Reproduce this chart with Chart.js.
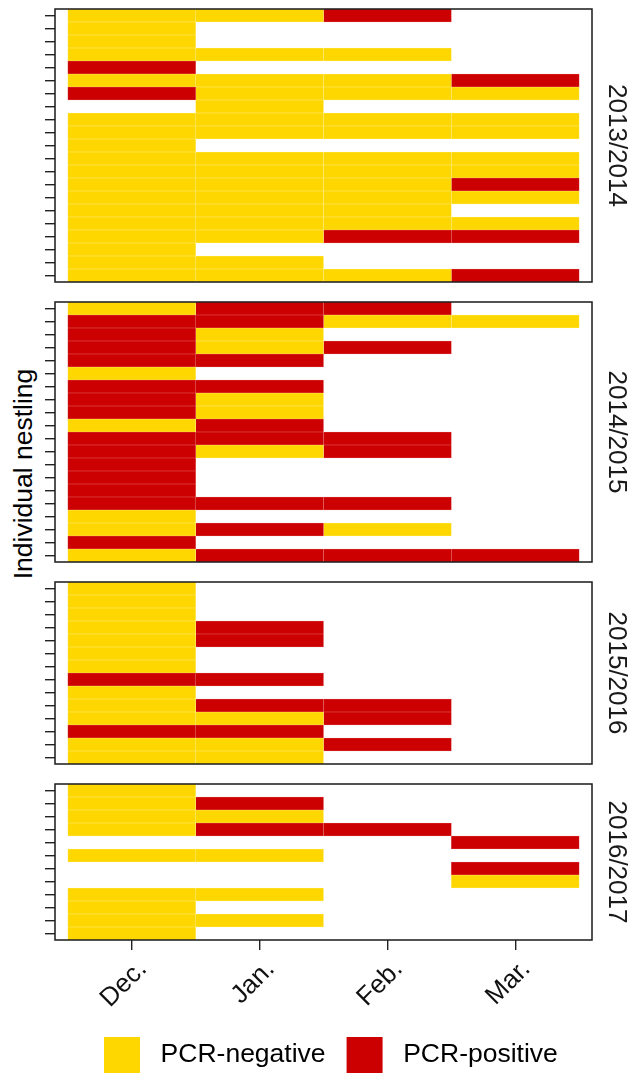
<!DOCTYPE html>
<html>
<head>
<meta charset="utf-8">
<script src="https://cdn.jsdelivr.net/npm/chart.js@4.4.1/dist/chart.umd.min.js"></script>
<style>
  html, body { margin: 0; padding: 0; width: 635px; height: 1074px; overflow: hidden; background: #fff; }
  canvas { position: absolute; }
  #ylab {
    position: absolute; left: 23px; top: 474px;
    transform: translate(-50%, -50%) rotate(-90deg);
    font: 26.5px 'Liberation Sans', Arial, sans-serif; color: #000; white-space: nowrap;
  }
</style>
</head>
<body>
<div id="ylab">Individual nestling</div>
<script>
const months = ['Dec.', 'Jan.', 'Feb.', 'Mar.'];
const seasons = ['2013/2014', '2014/2015', '2015/2016', '2016/2017'];
const statusNames = ['PCR-negative', 'PCR-positive'];

// one string per nestling (top to bottom), one letter per month:
// N = PCR-negative, P = PCR-positive, - = not sampled
const s2013 = ['NNP-', 'N---', 'N---', 'NNN-', 'P---', 'NNNP', 'PNNN', '-N--', 'NNNN', 'NNNN', 'N---',
               'NNNN', 'NNNN', 'NNNP', 'NNNN', 'NNN-', 'NNNN', 'NNPP', 'N---', 'NN--', 'NNNP'];
const s2014 = ['NPP-', 'PPNN', 'PN--', 'PNP-', 'PP--', 'N---', 'PP--', 'PN--', 'PN--', 'NP--',
               'PPP-', 'PNP-', 'P---', 'P---', 'P---', 'PPP-', 'N---', 'NPN-', 'P---', 'NPPP'];
const s2015 = ['N---', 'N---', 'N---', 'NP--', 'NP--', 'N---', 'N---', 'PP--', 'N---', 'NPP-',
               'NNP-', 'PP--', 'NNP-', 'NN--'];
const s2016 = ['N---', 'NP--', 'NN--', 'NPP-', '---P', 'NN--', '---P', '---N', 'NN--', 'N---',
               'NN--', 'N---'];
const rowsBySeason = [s2013, s2014, s2015, s2016];

const YELLOW = '#FFD700', RED = '#CC0000';
const YELLOW_EDGE = '#FFEA7A', RED_EDGE = '#E26666';

Chart.defaults.font.family = "'Liberation Sans', Arial, sans-serif";

const framePlugin = {
  id: 'frame',
  afterDatasetsDraw(chart) {
    const { ctx, chartArea: a } = chart;
    ctx.save();
    ctx.strokeStyle = '#1a1a1a';
    ctx.lineWidth = 1.5;
    ctx.strokeRect(a.left, a.top, a.width, a.height);
    ctx.restore();
  }
};

const rowH = 13, gapH = 20, pad = 3, axisH = 80;
let panelTop = 9;

seasons.forEach((season, p) => {
  const rows = rowsBySeason[p];
  const h = rows.length * rowH;
  const last = p === seasons.length - 1;

  const canvas = document.createElement('canvas');
  canvas.width = 635;
  canvas.height = last ? pad + h + axisH : h + pad * 2;
  canvas.style.left = '0px';
  canvas.style.top = (panelTop - pad) + 'px';
  document.body.appendChild(canvas);

  const datasets = months.map((m, j) => ({
    label: m,
    data: rows.map(r => r[j] === '-' ? null : [j + 0.5, j + 1.5]),
    backgroundColor: rows.map(r => r[j] === 'P' ? RED : YELLOW),
    borderColor: rows.map(r => r[j] === 'P' ? RED_EDGE : YELLOW_EDGE),
    borderWidth: 0.6,
    borderSkipped: false,
    grouped: false,
    barPercentage: 1,
    categoryPercentage: 1
  }));

  new Chart(canvas, {
    type: 'bar',
    data: { labels: rows.map((_, i) => String(i + 1)), datasets: datasets },
    plugins: [framePlugin],
    options: {
      indexAxis: 'y',
      responsive: false,
      animation: false,
      events: [],
      layout: { padding: { left: 45, right: 0, top: pad, bottom: last ? 0 : pad } },
      plugins: { legend: { display: false }, tooltip: { enabled: false } },
      scales: {
        x: {
          type: 'linear', min: 0.4, max: 4.6, display: last,
          afterBuildTicks: s => { s.ticks = months.map((_, i) => ({ value: i + 1 })); },
          afterFit: s => { s.height = last ? axisH : 0; },
          grid: { drawOnChartArea: false, drawTicks: true, tickLength: 10, color: '#222', lineWidth: 1.4 },
          border: { display: false },
          ticks: {
            autoSkip: false, minRotation: 45, maxRotation: 45, padding: 4, labelOffset: 11,
            color: '#111', font: { size: 26 },
            callback: v => months[v - 1]
          }
        },
        y: {
          type: 'category', position: 'left', offset: true,
          grid: { offset: false, drawOnChartArea: false, drawTicks: true, tickLength: 10, color: '#222', lineWidth: 1.4 },
          border: { display: false },
          ticks: { display: false, autoSkip: false },
          afterFit: s => { s.width = 10; }
        },
        strip: {
          type: 'category', position: 'right',
          grid: { display: false },
          border: { display: false },
          ticks: { display: false },
          title: { display: true, text: season, color: '#1a1a1a', font: { size: 26 }, padding: { top: 3, bottom: 0 } },
          afterFit: s => { s.width = 43; }
        }
      }
    }
  });

  panelTop += h + gapH;
});

// legend
const legendCanvas = document.createElement('canvas');
legendCanvas.width = 552;
legendCanvas.height = 200;
legendCanvas.style.left = '83px';
legendCanvas.style.top = '1016px';
document.body.appendChild(legendCanvas);

new Chart(legendCanvas, {
  type: 'bar',
  data: {
    labels: [],
    datasets: statusNames.map((n, i) => ({
      label: ' ' + n, data: [], backgroundColor: [YELLOW, RED][i], borderWidth: 0
    }))
  },
  options: {
    responsive: false,
    animation: false,
    events: [],
    scales: { x: { display: false }, y: { display: false } },
    plugins: {
      tooltip: { enabled: false },
      legend: {
        position: 'top', align: 'start',
        labels: { boxWidth: 36, boxHeight: 36, padding: 21, color: '#000', font: { size: 26.5 } }
      }
    }
  }
});
</script>
</body>
</html>
